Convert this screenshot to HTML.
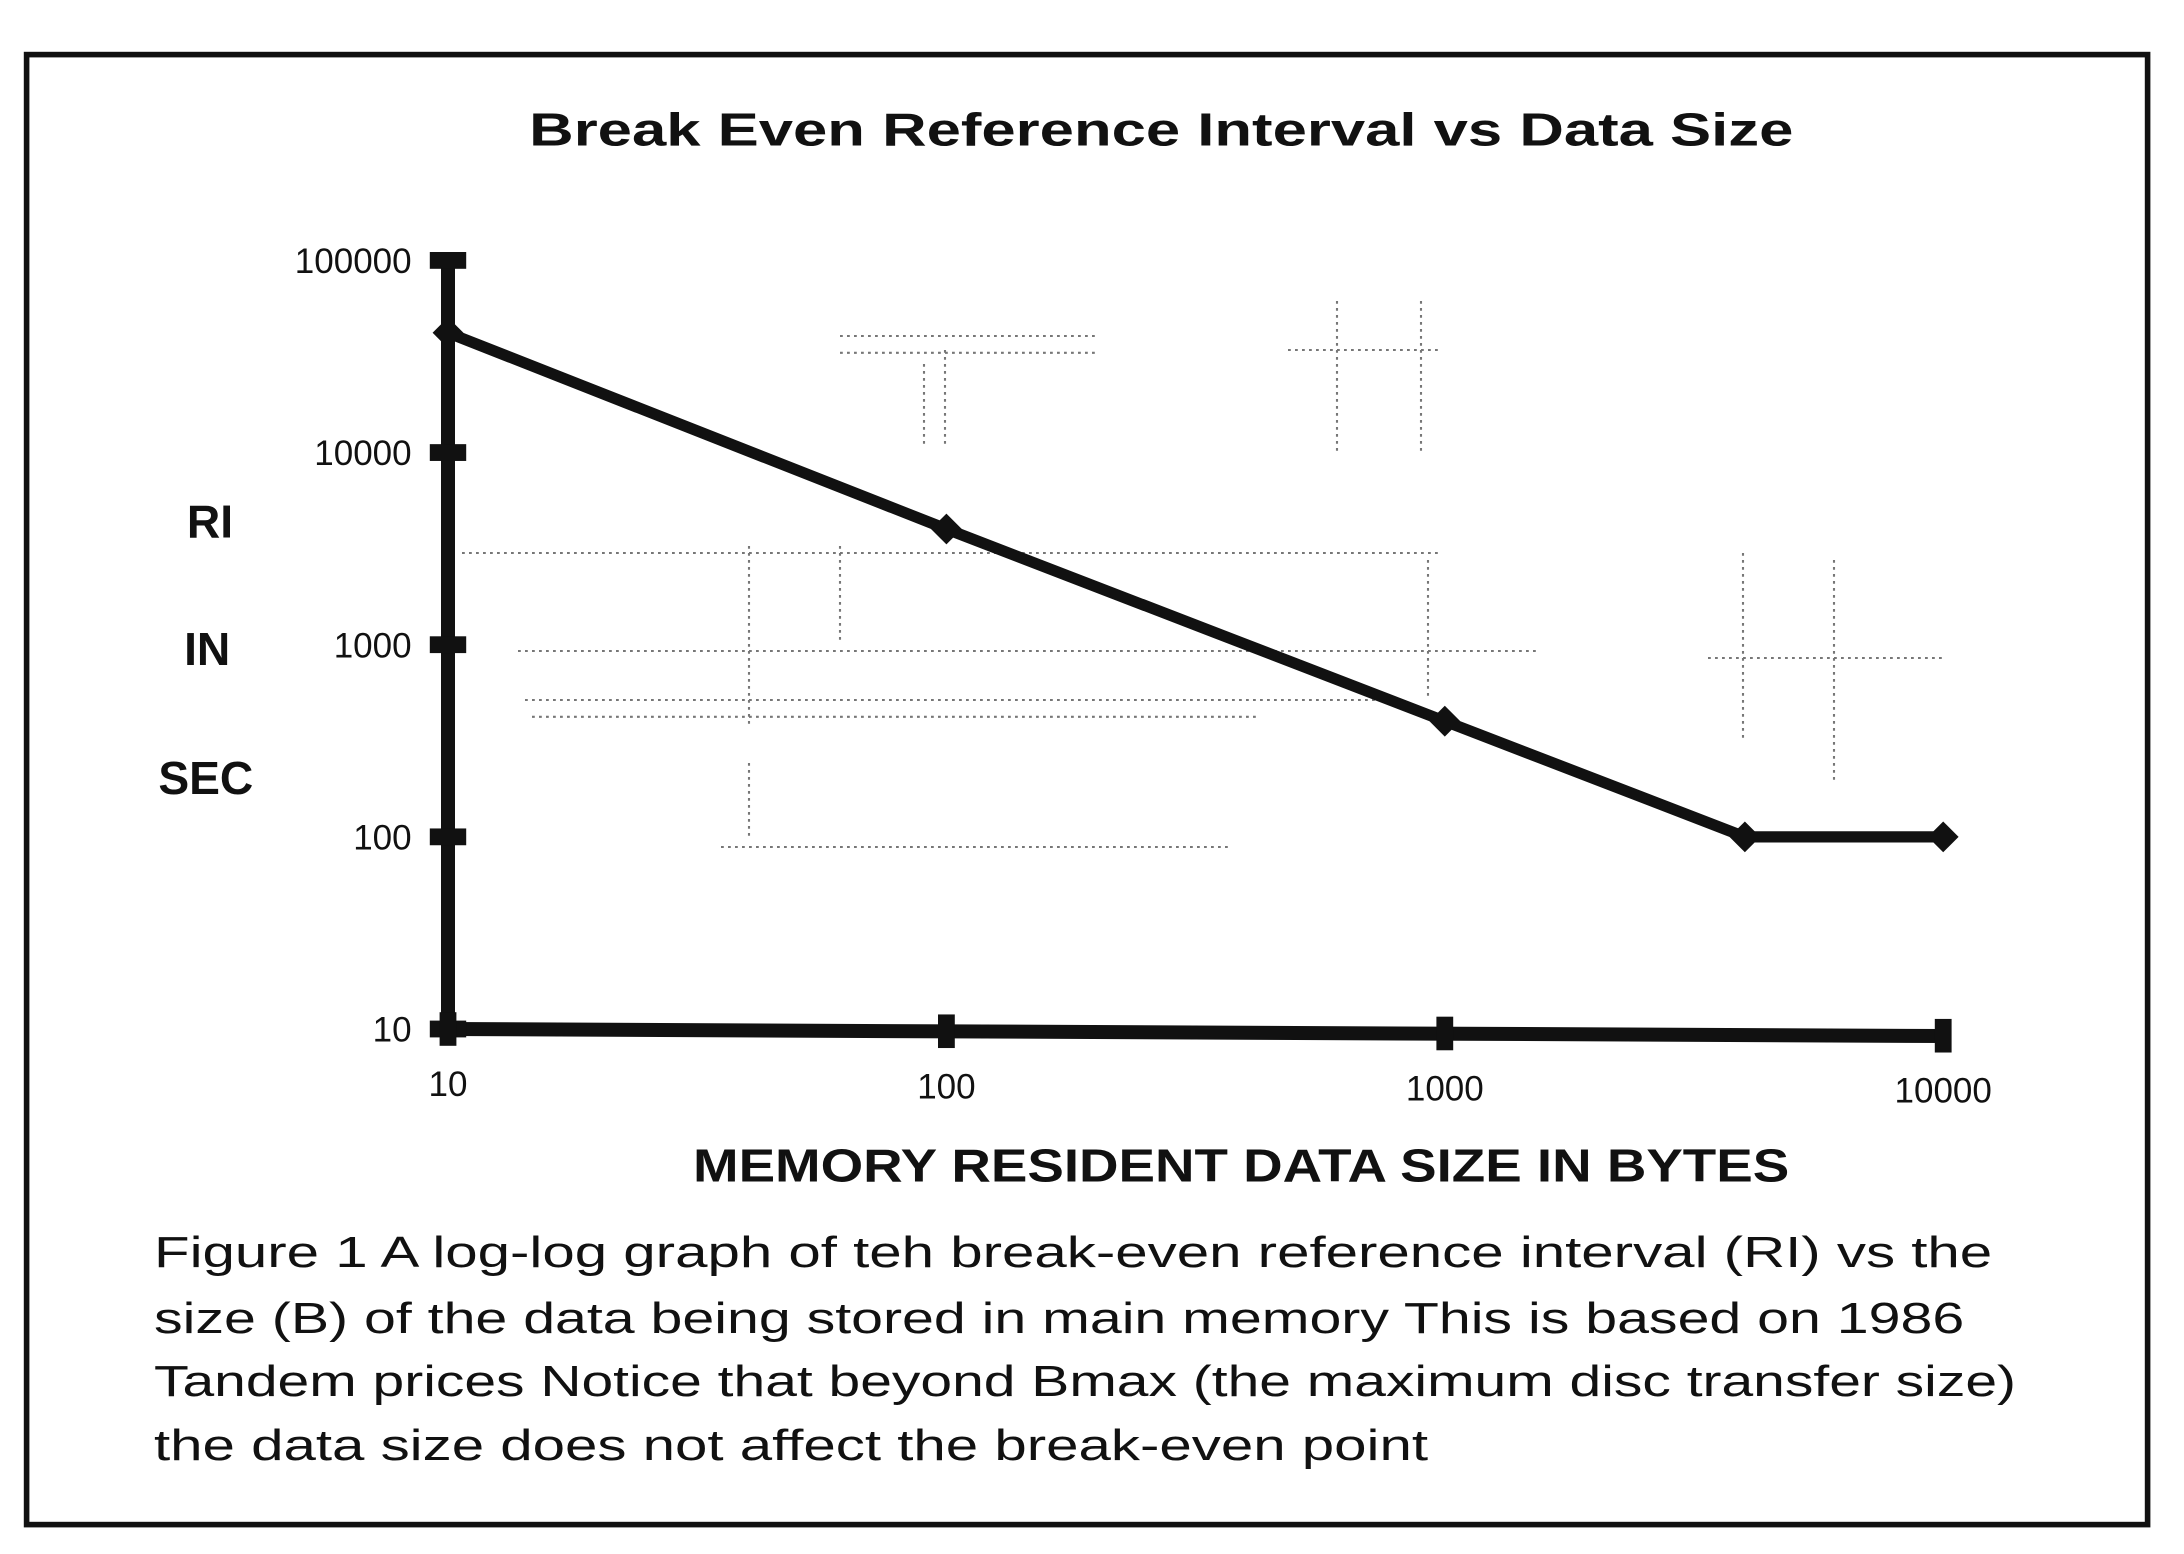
<!DOCTYPE html>
<html><head><meta charset="utf-8"><style>
html,body{margin:0;padding:0;background:#fff}
svg{display:block}
text{font-family:"Liberation Sans",sans-serif;fill:#111}
</style></head><body>
<svg id="chart" width="2184" height="1554" viewBox="0 0 1560 1110" xmlns="http://www.w3.org/2000/svg">
<rect x="19" y="39" width="1515" height="1050" fill="none" stroke="#111" stroke-width="4"/>
<text x="378" y="104" font-size="33" font-weight="bold" textLength="903" lengthAdjust="spacingAndGlyphs">Break  Even  Reference  Interval    vs  Data  Size</text>
<g stroke="#777" stroke-width="1.5" stroke-dasharray="2 3" fill="none">
<line x1="330" y1="395" x2="1030" y2="395"/>
<line x1="370" y1="465" x2="1100" y2="465"/>
<line x1="375" y1="500" x2="1000" y2="500"/>
<line x1="380" y1="512" x2="900" y2="512"/>
<line x1="515" y1="605" x2="880" y2="605"/>
<line x1="600" y1="240" x2="785" y2="240"/>
<line x1="600" y1="252" x2="785" y2="252"/>
<line x1="920" y1="250" x2="1030" y2="250"/>
<line x1="535" y1="390" x2="535" y2="520"/>
<line x1="600" y1="390" x2="600" y2="460"/>
<line x1="660" y1="260" x2="660" y2="320"/>
<line x1="675" y1="250" x2="675" y2="320"/>
<line x1="955" y1="215" x2="955" y2="325"/>
<line x1="1015" y1="215" x2="1015" y2="325"/>
<line x1="1245" y1="395" x2="1245" y2="530"/>
<line x1="1310" y1="400" x2="1310" y2="560"/>
<line x1="1220" y1="470" x2="1390" y2="470"/>
<line x1="535" y1="545" x2="535" y2="600"/>
<line x1="1020" y1="400" x2="1020" y2="500"/>
</g>
<g font-size="25" text-anchor="end" id="ylabels"></g>
<g font-size="25" text-anchor="middle" id="xlabels"></g>
<g font-size="33" font-weight="bold" text-anchor="middle">
<text x="150" y="384">RI</text><text x="148" y="475">IN</text><text x="147" y="567">SEC</text>
</g>
<text x="495" y="844" font-size="33" font-weight="bold" textLength="783" lengthAdjust="spacingAndGlyphs">MEMORY RESIDENT DATA SIZE IN BYTES</text>
<g id="axes"></g>
<g id="series"></g>
<g font-size="31">
<text x="110" y="905" textLength="1313" lengthAdjust="spacingAndGlyphs">Figure 1  A log-log graph of teh break-even  reference interval (RI) vs the</text>
<text x="110" y="952" textLength="1293" lengthAdjust="spacingAndGlyphs">size (B) of the data being stored in main memory   This is based on 1986</text>
<text x="110" y="997" textLength="1330" lengthAdjust="spacingAndGlyphs">Tandem prices  Notice that beyond Bmax (the maximum disc transfer size)</text>
<text x="110" y="1043" textLength="910" lengthAdjust="spacingAndGlyphs">the   data size does not affect the break-even point</text>
</g>
</svg>
<script>
const xTicks=[10,100,1000,10000];
const xTickLabels=["10","100","1000","10000"];
const yTicks=[10,100,1000,10000,100000];
const yTickLabels=["10","100","1000","10000","100000"];
const dataX=[10,100,1000,4000,10000];
const dataY=[42000,4000,400,100,100];
const NS="http://www.w3.org/2000/svg";
function xs(v){return 320+(Math.log10(v)-1)*356;}
function ys(v){return 735-(Math.log10(v)-1)*137.25;}
function mk(tag,attrs,parent){const e=document.createElementNS(NS,tag);for(const k in attrs)e.setAttribute(k,attrs[k]);parent.appendChild(e);return e;}
const axes=document.getElementById('axes'),ser=document.getElementById('series');
const ya=mk('line',{x1:xs(10),y1:ys(100000),x2:xs(10),y2:ys(10)+5,stroke:'#111','stroke-width':10},axes);

const xa=mk('line',{x1:xs(10),y1:ys(10),x2:xs(10000),y2:ys(10)+5,stroke:'#111','stroke-width':10},axes);

const yl=document.getElementById('ylabels'),xl=document.getElementById('xlabels');
yTicks.forEach((v,i)=>{
 const t=mk('rect',{x:xs(10)-13,y:ys(v)-6,width:26,height:12,fill:'#111'},axes);
 
 const l=mk('text',{x:294,y:ys(v)+9},yl);l.textContent=yTickLabels[i];
 
});
xTicks.forEach((v,i)=>{
 const yy=ys(10)+i*1.6;
 const t=mk('rect',{x:xs(v)-6,y:yy-12,width:12,height:24,fill:'#111'},axes);
 
 const l=mk('text',{x:xs(v),y:783+i*1.5},xl);l.textContent=xTickLabels[i];
 
});
const pts=dataX.map((x,i)=>xs(x)+','+ys(dataY[i])).join(' ');
const pl=mk('polyline',{points:pts,fill:'none',stroke:'#111','stroke-width':8,'stroke-linejoin':'round'},ser);

dataX.forEach((x,i)=>{
 const cx=xs(x),cy=ys(dataY[i]);
 const d=mk('polygon',{points:`${cx},${cy-11} ${cx+11},${cy} ${cx},${cy+11} ${cx-11},${cy}`,fill:'#111'},ser);
 
});
</script>
</body></html>
